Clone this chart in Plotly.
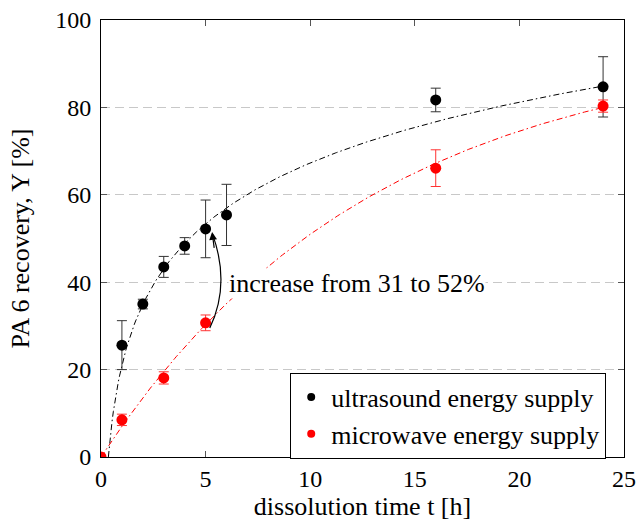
import numpy as np
import plotly.graph_objects as go

# Measured recovery (ultrasound)
t_us = [1, 2, 3, 4, 5, 6, 16, 24]
y_us = [25.6, 35.0, 43.5, 48.3, 52.2, 55.4, 81.7, 84.7]
e_us = [5.6, 1.1, 2.4, 1.9, 6.6, 7.0, 2.7, 6.9]

# Measured recovery (microwave)
t_mw = [0, 1, 3, 5, 16, 24]
y_mw = [0.0, 8.5, 18.1, 30.7, 66.1, 80.3]
e_mw = [0.0, 1.3, 1.4, 1.8, 4.2, 1.4]

# Model parameters for the fitted curves
us_a, us_b = 21.0, 20.1             # y = a + b ln(t)
mw_ymax, mw_rate = 95.0, 0.0769     # y = ymax * (1 - exp(-k t))

x_ticks = [0, 5, 10, 15, 20, 25]
y_ticks = [0, 20, 40, 60, 80, 100]

FONT = "Liberation Serif"
TICK_SIZE = 24
TEXT_SIZE = 26
FIT_DASH = "6px,3px,1.5px,3px"

t_start_us = np.exp(-us_a / us_b)   # where the log fit crosses zero
t_fit_us = np.linspace(t_start_us, 24, 400)
fit_us = us_a + us_b * np.log(t_fit_us)
t_fit_mw = np.linspace(0, 24, 300)
fit_mw = mw_ymax * (1 - np.exp(-mw_rate * t_fit_mw))

fig = go.Figure()

fig.add_trace(go.Scatter(x=t_fit_us, y=fit_us, mode="lines", showlegend=False,
                         line=dict(color="black", width=1, dash=FIT_DASH),
                         hoverinfo="skip"))
fig.add_trace(go.Scatter(x=t_fit_mw, y=fit_mw, mode="lines", showlegend=False,
                         line=dict(color="red", width=1, dash=FIT_DASH),
                         hoverinfo="skip"))

fig.add_trace(go.Scatter(
    x=t_us, y=y_us, mode="markers", showlegend=False,
    marker=dict(color="black", size=11),
    error_y=dict(type="data", array=e_us, color="#333", thickness=1, width=5)))
fig.add_trace(go.Scatter(
    x=t_mw, y=y_mw, mode="markers", showlegend=False,
    marker=dict(color="red", size=11),
    error_y=dict(type="data", array=e_mw, color="#f33", thickness=1, width=5)))

# Legend entries with small markers
fig.add_trace(go.Scatter(x=[None], y=[None], mode="markers",
                         name="ultrasound energy supply",
                         marker=dict(color="black", size=8)))
fig.add_trace(go.Scatter(x=[None], y=[None], mode="markers",
                         name="microwave energy supply",
                         marker=dict(color="red", size=8)))

# Label with white background over the curves
fig.add_annotation(x=6.05, y=39.6, xref="x", yref="y", xanchor="left",
                   text="increase from 31 to 52%", showarrow=False,
                   bgcolor="white", borderpad=0,
                   font=dict(family=FONT, size=TEXT_SIZE, color="black"))

# Curved arrow from the microwave point to the ultrasound point
fig.add_shape(type="path", xref="x", yref="y",
              path="M 5.2,29.5 Q 6.2,39.5 5.33,51.0",
              line=dict(color="black", width=1.2))
fig.add_annotation(x=5.31, y=51.5, ax=5.42, ay=47.5, axref="x", ayref="y",
                   xref="x", yref="y", text="", showarrow=True,
                   arrowhead=2, arrowsize=1.3, arrowwidth=1.2, arrowcolor="black")

axis_common = dict(showline=True, linecolor="black", linewidth=1, mirror="allticks",
                   ticks="inside", ticklen=6, tickcolor="#555", zeroline=False,
                   automargin=False,
                   tickfont=dict(family=FONT, size=TICK_SIZE, color="black"))

fig.update_xaxes(range=[0, 25], tickvals=x_ticks, showgrid=False,
                 title=dict(text="dissolution time t [h]", standoff=14,
                            font=dict(family=FONT, size=TEXT_SIZE, color="black")),
                 **axis_common)
fig.update_yaxes(range=[0, 100], tickvals=y_ticks, showgrid=True,
                 gridcolor="#c8c8c8", griddash="9px,5px", gridwidth=1,
                 ticklabelstandoff=4,
                 title=dict(text="PA 6 recovery, Y [%]", standoff=18,
                            font=dict(family=FONT, size=TEXT_SIZE, color="black")),
                 **axis_common)

fig.update_layout(
    width=636, height=521,
    margin=dict(l=101, r=12, t=20, b=64),
    plot_bgcolor="white", paper_bgcolor="white",
    font=dict(family=FONT, size=TEXT_SIZE, color="black"),
    legend=dict(x=0.966, y=0.193, xanchor="right", yanchor="top",
                bgcolor="white", bordercolor="black", borderwidth=1,
                font=dict(family=FONT, size=TEXT_SIZE, color="black"),
                itemwidth=30, tracegroupgap=0),
)

fig.write_html("out.html")
